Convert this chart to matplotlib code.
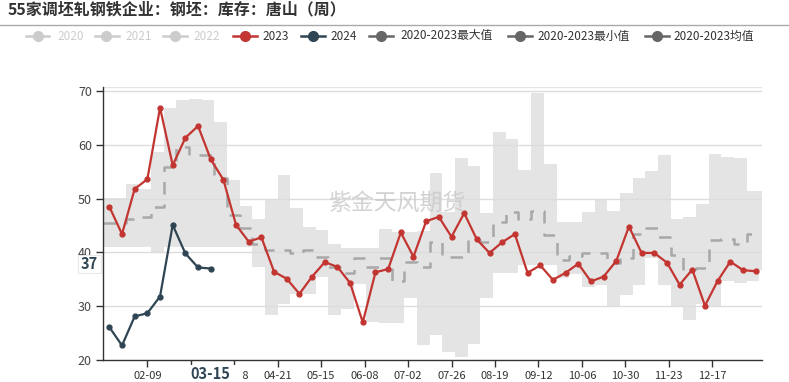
import numpy as np
import pandas as pd
import matplotlib
matplotlib.use('Agg')
import matplotlib.pyplot as plt
from matplotlib.lines import Line2D
from matplotlib.patches import Rectangle

plt.rcParams['font.family'] = ['Noto Sans CJK SC', 'DejaVu Sans']

# 数据 (周度, 第0周 = 01-19)
start = pd.Timestamp('2024-01-19')
tick_labels = ['02-09', '03-04', '03-28', '04-21', '05-15', '06-08', '07-02',
               '07-26', '08-19', '09-12', '10-06', '10-30', '11-23', '12-17']

y2023 = [48.5, 43.4, 51.8, 53.6, 66.9, 56.2, 61.3, 63.5, 57.3, 53.5,
         45.1, 42.0, 42.8, 36.4, 35.1, 32.3, 35.5, 38.2, 37.3, 34.3,
         27.0, 36.3, 36.9, 43.7, 39.2, 45.8, 46.6, 42.9, 47.3, 42.4,
         39.9, 41.9, 43.4, 36.2, 37.6, 34.9, 36.2, 37.9, 34.6, 35.5,
         38.4, 44.8, 39.9, 39.9, 38.1, 34.0, 36.8, 30.1, 34.7, 38.3,
         36.7, 36.5]
y2024 = [26.1, 22.7, 28.1, 28.7, 31.8, 45.1, 39.8, 37.2, 37.0]

# 2020-2023 区间 (各年日期比2023年晚约2天, 阶梯)
band_hi = [50.1, 50.1, 52.8, 51.7, 58.7, 66.9, 68.3, 68.6, 68.3, 64.2,
           53.5, 48.7, 46.2, 49.7, 54.3, 48.2, 44.8, 44.2, 41.5, 40.9,
           40.9, 40.9, 44.3, 43.8, 43.8, 44.0, 54.7, 47.6, 57.5, 56.1,
           47.4, 62.3, 61.1, 55.3, 69.6, 56.5, 45.7, 45.7, 47.6, 49.7,
           47.7, 51.1, 53.9, 55.1, 58.1, 46.2, 46.6, 49.0, 58.3, 57.8,
           57.6, 51.4, 51.4]
band_lo = [41.05, 41.05, 41.05, 41.05, 40.1, 41.05, 41.05, 41.05, 41.05, 41.05,
           41.05, 41.05, 37.3, 28.4, 30.4, 32.2, 32.2, 35.5, 28.4, 29.4,
           34.2, 27.0, 26.8, 26.8, 31.5, 22.8, 24.6, 21.5, 20.6, 22.9,
           31.5, 36.1, 36.1, 37.7, 37.7, 37.7, 35.2, 36.0, 33.6, 33.9,
           30.1, 32.1, 33.9, 38.9, 33.9, 29.9, 27.4, 30.5, 29.9, 34.7,
           34.4, 34.7, 36.7]
band_mean = [45.4, 45.4, 46.3, 46.5, 48.5, 55.9, 59.5, 58.1, 58.1, 53.8,
             47.0, 44.5, 41.5, 40.4, 40.4, 39.8, 40.4, 39.2, 37.3, 36.1,
             38.9, 37.3, 38.9, 34.6, 38.3, 37.3, 42.0, 39.2, 39.2, 42.3,
             42.0, 45.7, 47.6, 46.3, 47.7, 43.2, 38.6, 39.4, 39.8, 39.8,
             38.0, 38.9, 43.5, 44.6, 42.9, 39.5, 37.0, 37.1, 42.3, 42.4,
             41.5, 43.5, 43.5]

c2023 = '#c23531'
c2024 = '#2f4554'
cband = '#666666'
cgray = '#cccccc'

W, H = 789, 382
fig = plt.figure(figsize=(W / 100, H / 100), dpi=100)


def fx(x):
    return x / W


def fy(y):
    return 1 - y / H


ax = fig.add_axes([fx(103), fy(360), (762 - 103) / W, (360 - 86.7) / H])

n = len(y2023)
xw = np.arange(n)
off = 2 / 7
bx = np.r_[-0.5, np.arange(n) + off, n - 0.5]
hi = np.r_[band_hi, band_hi[-1]]
lo = np.r_[band_lo, band_lo[-1]]
mean = np.r_[band_mean, band_mean[-1]]

ax.fill_between(bx, lo, hi, step='post', color='#e4e4e4', lw=0, zorder=1)
for v in [30, 40, 50, 60, 70]:
    ax.axhline(v, color='#dcdcdc', lw=1, zorder=1.5)
ax.axhline(70.8, color='#e6e6e6', lw=1, zorder=1.5)

ax.plot(bx, mean, drawstyle='steps-post', color='#a8a8a8', lw=1.8,
        dashes=(5, 4), zorder=2)
ax.plot(xw, y2023, color=c2023, lw=1.6, marker='o', ms=3.5, zorder=4)
ax.plot(np.arange(len(y2024)), y2024, color=c2024, lw=1.6, marker='o', ms=3.5, zorder=4)

# 水印
ax.text(0.446, 0.575, '紫金天风期货', transform=ax.transAxes, ha='center', va='center',
        fontsize=16.5, color='#c8c8c8', alpha=0.8, zorder=5)

ax.set_xlim(-0.5, n - 0.5)
ax.set_ylim(20, 70.8)
ax.set_yticks([20, 30, 40, 50, 60, 70])
tick_pos = [(pd.Timestamp('2024-' + t) - start).days / 7 for t in tick_labels]
ax.set_xticks(tick_pos)
# 03-04 被指示器标签遮住
ax.set_xticklabels(['' if t == '03-04' else t for t in tick_labels])
ax.tick_params(axis='x', length=5, width=1, color='#333333', labelsize=8,
               labelcolor='#333333', pad=3)
ax.tick_params(axis='y', length=5, width=1, color='#333333', labelsize=9,
               labelcolor='#444444', pad=3)
for s in ['top', 'right']:
    ax.spines[s].set_visible(False)
for s in ['left', 'bottom']:
    ax.spines[s].set_color('#333333')
    ax.spines[s].set_linewidth(1)

# 标题
fig.text(fx(8), fy(9.5), '55家调坯轧钢铁企业：钢坯：库存：唐山（周）', ha='left', va='center',
         fontsize=11.5, fontweight='bold', color='#333333')
fig.add_artist(Line2D([0, 1], [fy(25), fy(25)], transform=fig.transFigure,
                      color='#aaaaaa', lw=1))

# 图例
legend_items = [('2020', cgray, cgray, 37.5, 57), ('2021', cgray, cgray, 106.5, 125),
                ('2022', cgray, cgray, 175, 193), ('2023', c2023, '#333333', 244.5, 262),
                ('2024', c2024, '#333333', 312.5, 330),
                ('2020-2023最大值', cband, '#333333', 381, 400),
                ('2020-2023最小值', cband, '#333333', 520, 537),
                ('2020-2023均值', cband, '#333333', 656.5, 673)]
ly = 36
for lab, col, tcol, mx, tx in legend_items:
    fig.add_artist(Line2D([fx(mx - 12), fx(mx + 12)], [fy(ly), fy(ly)],
                          transform=fig.transFigure, color=col, lw=1.8))
    fig.add_artist(Line2D([fx(mx)], [fy(ly)], transform=fig.transFigure,
                          color=col, marker='o', ms=7, lw=0))
    fig.text(fx(tx), fy(ly), lab, ha='left', va='center', fontsize=8.5, color=tcol)

# 指示器标签
fig.add_artist(Rectangle((fx(78), fy(273)), (101 - 78) / W, 18 / H,
                         transform=fig.transFigure, fc='white', ec='#e8e8e8', lw=0.8, zorder=10))
fig.text(fx(89.5), fy(264), '37', ha='center', va='center', fontsize=10.5,
         fontweight='bold', color=c2024, zorder=11)
fig.add_artist(Rectangle((fx(174), fy(382)), (242 - 174) / W, 17 / H,
                         transform=fig.transFigure, fc='white', ec='none', zorder=10))
fig.text(fx(210), fy(374), '03-15', ha='center', va='center', fontsize=10.5,
         fontweight='bold', color=c2024, zorder=11)

fig.savefig('out.png', dpi=100)
